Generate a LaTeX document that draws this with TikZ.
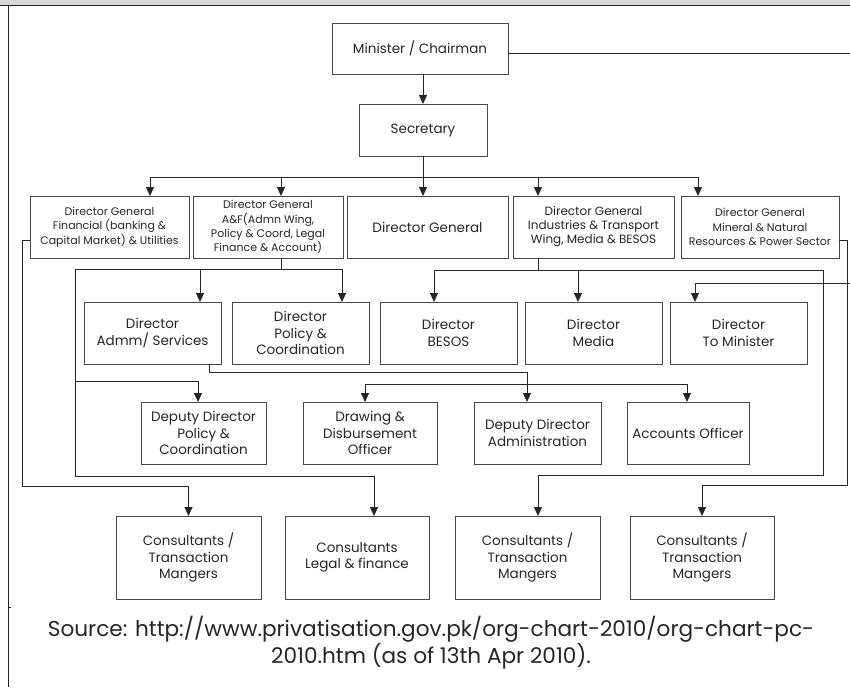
\documentclass[tikz,border=0pt]{standalone}
\usepackage{fontspec}
\setmainfont{Poppins}
\usepackage{tikz}
\usetikzlibrary{arrows.meta,positioning}
\definecolor{inkgray}{HTML}{262626}
\definecolor{bandgray}{HTML}{D9D9D9}

\begin{document}
\begin{tikzpicture}[x=1pt,y=-1pt,
      box/.style={draw=inkgray!85,line width=0.9pt,outer sep=0pt,inner sep=1pt,align=center,text=inkgray,font=\fontsize{13.5}{16.5}\selectfont},
      dgsmall/.style={box,font=\fontsize{11}{14.3}\selectfont},
      dgmid/.style={box,font=\fontsize{12}{14}\selectfont},
      lnk/.style={draw=inkgray,line width=0.9pt},
      arr/.style={lnk,-{Triangle[length=9pt,width=8pt]}}
    ]
    \useasboundingbox (0,0) rectangle (850,687);
    \fill[bandgray] (0,0) rectangle (850,5);
    \draw[lnk] (0,5) -- (850,5);
    \draw[lnk] (8,5) -- (8,687);
    \draw[lnk] (8,607) -- (11,607);

    \node[box,minimum width=176pt,minimum height=51pt] (minister) at (420,48.5) {Minister / Chairman};
    \node[box,minimum width=128pt,minimum height=52pt] (sec) at (423,130) {Secretary};

    \node[dgsmall,minimum width=159pt,minimum height=62pt] (dgfin) at (109.5,227) {Director General\\Financial (banking \&\\Capital Market) \& Utilities};
    \node[dgsmall,minimum width=150pt,minimum height=62pt] (dgadm) at (268,227) {Director General\\A\&F(Admn Wing,\\Policy \& Coord, Legal\\Finance \& Account)};
    \node[box,minimum width=161pt,minimum height=62pt] (dgmain) at (427.5,227) {Director General};
    \node[dgmid,minimum width=161pt,minimum height=62pt] (dgind) at (593.5,227) {Director General\\Industries \& Transport\\Wing, Media \& BESOS};
    \node[dgsmall,minimum width=158pt,minimum height=62pt] (dgmin) at (760,227) {Director General\\Mineral \& Natural\\Resources \& Power Sector};

    \node[box,minimum width=137pt,minimum height=62pt] (dadm) at (152.5,333) {Director\\Admm/ Services};
    \node[box,minimum width=137pt,minimum height=62pt] (dpol) at (300.5,333) {Director\\Policy \&\\Coordination};
    \node[box,minimum width=137pt,minimum height=62pt] (dbes) at (448.5,333) {Director\\BESOS};
    \node[box,minimum width=137pt,minimum height=62pt] (dmed) at (593.5,333) {Director\\Media};
    \node[box,minimum width=137pt,minimum height=62pt] (dmin) at (738.5,333) {Director\\To Minister};

    \node[box,minimum width=125pt,minimum height=62pt] (ddpol) at (203.5,433) {Deputy Director\\Policy \&\\Coordination};
    \node[box,minimum width=134pt,minimum height=62pt] (ddo) at (370,433) {Drawing \&\\Disbursement\\Officer};
    \node[box,minimum width=127pt,minimum height=62pt] (ddadm) at (537.5,433) {Deputy Director\\Administration};
    \node[box,minimum width=122pt,minimum height=62pt] (acc) at (688,433) {Accounts Officer};

    \node[box,minimum width=145pt,minimum height=83pt] (con1) at (188.5,557.5) {Consultants /\\Transaction\\Mangers};
    \node[box,minimum width=144pt,minimum height=83pt] (con2) at (357,557.5) {Consultants\\Legal \& finance};
    \node[box,minimum width=145pt,minimum height=83pt] (con3) at (527.5,557.5) {Consultants /\\Transaction\\Mangers};
    \node[box,minimum width=144pt,minimum height=83pt] (con4) at (702,557.5) {Consultants /\\Transaction\\Mangers};

    \node[align=center,text=inkgray,font=\fontsize{21.6}{24.5}\selectfont] (src) at (431,643) {Source: http://www.privatisation.gov.pk/org-chart-2010/org-chart-pc-\\2010.htm (as of 13th Apr 2010).};

    \draw[arr] (minister.south -| sec.north) -- (sec.north);
    \draw[lnk] (sec.south) -- ++(0,21) coordinate (sb);
    \draw[arr] (sb) -| ([xshift=40.5pt]dgfin.north);
    \draw[arr] (sb) -| ([xshift=13pt]dgadm.north);
    \draw[arr] (sb) -- (sb |- dgmain.north);
    \draw[arr] (sb) -| ([xshift=-55.5pt]dgind.north);
    \draw[arr] (sb) -| ([xshift=-62pt]dgmin.north);

    \draw[arr] ([yshift=-4.5pt]minister.east) -- ++(345,0) -- ++(0,230) -| ([xshift=-43.5pt]dmin.north);

    \draw[lnk] ([xshift=13pt]dgadm.south) -- ++(0,11) coordinate (ab);
    \draw[arr] (ab) -| ([xshift=47.5pt]dadm.north);
    \draw[arr] (ab) -| ([xshift=41.5pt]dpol.north);
    \draw[lnk] (ab) -- ++(-206,0) coordinate (al);
    \draw[arr] (al) -- ++(0,112) -| ([xshift=-5.5pt]ddpol.north);
    \draw[arr] (al) -- ++(0,207) -| ([xshift=17pt]con2.north);

    \draw[lnk] ([xshift=-55.5pt]dgind.south) -- ++(0,12) coordinate (ib);
    \draw[arr] (ib) -| ([xshift=-14.5pt]dbes.north);
    \draw[arr] (ib) -| ([xshift=-15.5pt]dmed.north);
    \draw[lnk] (ib) -- ++(285,0) coordinate (ir);
    \draw[arr] (ir) -- ++(0,205) -| ([xshift=10.5pt]con3.north);

    \draw[arr] ([yshift=-13pt]dgfin.west) -- ++(-8,0) -- ++(0,246) -| (con1.north);
    \draw[arr] ([yshift=-13pt]dgmin.east) -- ++(8,0) -- ++(0,245) -| (con4.north);

    \draw[lnk] ([xshift=56.5pt]dadm.south) -- ++(0,8) coordinate (sv);
    \draw[arr] (sv) -| ([xshift=-10.5pt]ddadm.north);
    \path ([xshift=-10.5pt]ddadm.north) ++(0,-18) coordinate (sj);
    \draw[arr] (sj) -| ([xshift=-5pt]ddo.north);
    \draw[arr] (sj) -| ([xshift=-1pt]acc.north);
  \end{tikzpicture}
\end{document}
